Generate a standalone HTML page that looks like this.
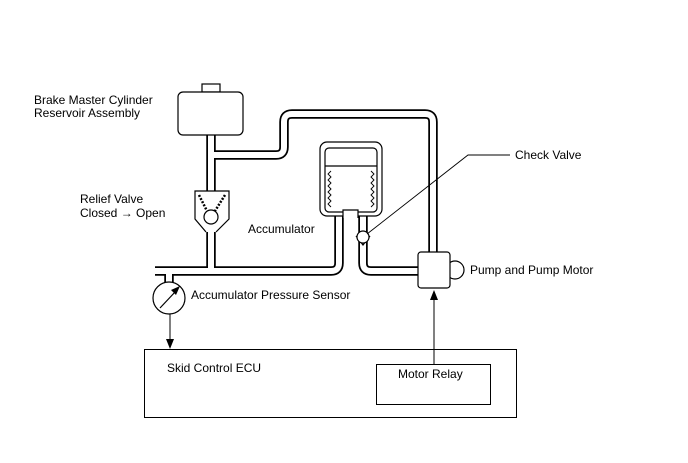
<!DOCTYPE html>
<html><head><meta charset="utf-8"><style>
body{margin:0;background:#fff;}
svg{display:block;}
text{font-family:"Liberation Sans",Arial,sans-serif;font-size:12px;fill:#000;}
</style></head><body>
<svg width="688" height="463" viewBox="0 0 688 463" xmlns="http://www.w3.org/2000/svg">
<g fill="none" stroke-linejoin="round">
<g stroke="#000" stroke-width="9.5">
<path d="M211,134 V192"/>
<path d="M211,155 H276 Q284,155 284,147 V122 Q284,114 292,114 H425 Q433,114 433,122 V254"/>
<path d="M211,228 V271"/>
<path d="M155,271 H331 Q339,271 339,263 V212"/>
<path d="M363,212 V263 Q363,271 371,271 H419"/>
<path d="M169,271 V284"/>
</g>
<g stroke="#fff" stroke-width="6">
<path d="M211,133 V194"/>
<path d="M211,155 H276 Q284,155 284,147 V122 Q284,114 292,114 H425 Q433,114 433,122 V256"/>
<path d="M211,226 V271"/>
<path d="M154,271 H331 Q339,271 339,263 V210"/>
<path d="M363,210 V263 Q363,271 371,271 H421"/>
<path d="M169,271 V286"/>
</g>
</g>
<!-- reservoir -->
<rect x="202" y="84" width="18" height="8" fill="#fff" stroke="#000" stroke-width="1.2"/>
<rect x="178" y="92" width="65" height="43" rx="5" fill="#fff" stroke="#000" stroke-width="1.2"/>
<!-- relief valve -->
<path d="M206,232 L195,219 V191 H229 V219 L216,232" fill="#fff" stroke="#000" stroke-width="1.2"/>
<path d="M199,195 L207,211 M225,195 L215,211" stroke="#000" stroke-width="2.5" stroke-dasharray="2,1.5" fill="none"/>
<circle cx="211" cy="217" r="7" fill="#fff" stroke="#000" stroke-width="1.2"/>
<!-- accumulator -->
<rect x="320" y="142" width="62" height="74" rx="7" fill="#fff" stroke="#000" stroke-width="1.2"/>
<rect x="325" y="148" width="52" height="64" rx="4" fill="#fff" stroke="#000" stroke-width="1.2"/>
<line x1="325" y1="166" x2="377" y2="166" stroke="#000" stroke-width="1.2"/>
<rect x="343" y="210" width="15" height="8" fill="#fff" stroke="none"/>
<path d="M343,218 V210 H358 V218" fill="none" stroke="#000" stroke-width="1.2"/>
<path d="M331,171 l-3,3 l3,3 l-3,3 l3,3 l-3,3 l3,3 l-3,3 l3,3 l-3,3 l3,3 l-3,3 l3,3 M371,171 l3,3 l-3,3 l3,3 l-3,3 l3,3 l-3,3 l3,3 l-3,3 l3,3 l-3,3 l3,3 l-3,3" fill="none" stroke="#000" stroke-width="0.9"/>
<!-- check valve -->
<path d="M356,236 L363,245 L370,236" fill="none" stroke="#000" stroke-width="1.2"/>
<circle cx="363" cy="237" r="6" fill="#fff" stroke="#000" stroke-width="1.2"/>
<polyline points="367,234 468,155 510,155" fill="none" stroke="#000" stroke-width="0.9"/>
<!-- pump -->
<circle cx="455" cy="270" r="9" fill="#fff" stroke="#000" stroke-width="1.2"/>
<rect x="418" y="252" width="32" height="36" rx="3" fill="#fff" stroke="#000" stroke-width="1.2"/>
<!-- sensor -->
<circle cx="169" cy="298" r="16" fill="#fff" stroke="#000" stroke-width="1.2"/>
<line x1="160" y1="308" x2="176" y2="291" stroke="#000" stroke-width="1.2"/>
<path d="M180,286 L171,290 L176,295 Z" fill="#000"/>
<line x1="170" y1="314" x2="170" y2="340" stroke="#000" stroke-width="1"/>
<path d="M166,339 L174,339 L170,349 Z" fill="#000"/>
<!-- ECU -->
<rect x="144.5" y="349.5" width="372" height="68" fill="none" stroke="#000" stroke-width="1"/>
<rect x="376.5" y="364.5" width="114" height="40" fill="none" stroke="#000" stroke-width="1"/>
<line x1="434" y1="364" x2="434" y2="299" stroke="#000" stroke-width="1"/>
<path d="M430,300 L438,300 L434,290 Z" fill="#000"/>
<!-- labels -->
<text x="34" y="104">Brake Master Cylinder</text>
<text x="34" y="117">Reservoir Assembly</text>
<text x="80" y="203">Relief Valve</text>
<text x="80" y="217">Closed → Open</text>
<text x="248" y="233">Accumulator</text>
<text x="515" y="159">Check Valve</text>
<text x="470" y="274">Pump and Pump Motor</text>
<text x="191" y="299">Accumulator Pressure Sensor</text>
<text x="167" y="372">Skid Control ECU</text>
<text x="398" y="378">Motor Relay</text>
</svg>
</body></html>
